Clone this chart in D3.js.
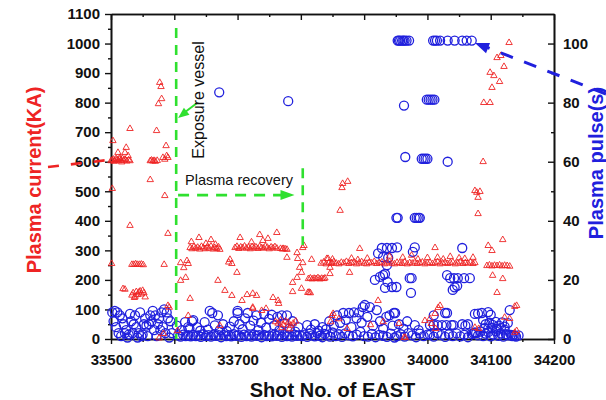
<!DOCTYPE html>
<html>
<head>
<meta charset="utf-8">
<script src="https://cdn.jsdelivr.net/npm/d3@7/dist/d3.min.js"></script>
<style>
  html, body { margin: 0; padding: 0; background: #fff; }
  svg { display: block; font-family: Arial, "Liberation Sans", sans-serif; }
  .axis path, .axis line { stroke: #111; }
  .axis text { font-size: 15px; font-weight: bold; fill: #111; }
</style>
</head>
<body>
<svg id="chart" width="606" height="400"></svg>
<script>
// Axis ticks
const shotTicks = [33500, 33600, 33700, 33800, 33900, 34000, 34100, 34200];
const shotMinor = [33550, 33650, 33750, 33850, 33950, 34050, 34150];
const currentTicks = [0, 100, 200, 300, 400, 500, 600, 700, 800, 900, 1000, 1100];
const currentMinor = [50, 150, 250, 350, 450, 550, 650, 750, 850, 950, 1050];
const pulseTicks = [0, 20, 40, 60, 80, 100];
const pulseMinor = [10, 30, 50, 70, 90];

// Plasma current per shot: [shot number, current in kA]
const currentPts = [
  [33503,673],[33530,714],[33511,633],[33522,633],[33524,650],[33514,616],[33527,622],
  [33500,605],[33502,608],[33504,610],[33506,606],[33508,612],[33510,609],[33512,605],[33514,611],
  [33516,607],[33518,613],[33520,606],[33522,610],[33525,604],[33528,608],[33530,605],[33505,603],[33517,601],
  [33502,511],
  [33562,605],[33564,607],[33566,604],[33568,606],[33570,603],[33573,606],
  [33582,616],[33588,622],[33590,616],[33585,610],[33587,656],[33572,707],[33575,798],[33580,815],
  [33577,870],[33579,856],[33562,541],[33585,487],
  [33530,386],[33590,359],[33501,257],[33533,254],[33536,254],[33539,256],[33542,254],[33545,254],
  [33548,255],[33551,253],[33584,254],
  [33519,172],[33522,170],[33533,150],[33535,158],[33538,146],[33540,162],[33542,152],[33544,160],
  [33546,164],[33548,154],[33550,166],[33552,158],[33554,144],[33537,142],
  [33590,115],[33592,109],[33583,20],[33576,5],[33605,30],
  [33610,260],[33615,243],[33620,267],[33622,257],[33610,200],[33618,210],[33625,139],[33622,81],
  [33625,311],[33628,307],[33631,314],[33634,309],[33637,312],[33640,306],[33643,315],[33646,310],
  [33649,307],[33652,313],[33655,309],[33658,316],[33661,306],[33664,311],[33667,308],[33670,313],[33672,305],
  [33627,331],[33639,345],[33658,338],[33650,325],[33665,322],
  [33688,271],[33691,257],[33686,262],[33699,227],[33680,166],[33669,200],[33707,132],[33724,109],
  [33691,149],[33715,152],[33738,98],[33756,142],[33764,132],
  [33696,311],[33699,315],[33702,308],[33705,313],[33708,310],[33711,316],[33714,309],[33717,312],
  [33720,307],[33723,314],[33726,310],[33729,313],[33732,308],[33735,315],[33738,311],[33741,309],
  [33744,316],[33747,312],[33750,307],[33753,313],[33756,310],[33759,314],[33762,309],[33768,308],
  [33771,306],[33775,307],[33778,305],
  [33704,345],[33735,355],[33748,342],[33762,362],[33740,335],[33722,330],[33772,308],[33778,278],
  [33724,156],[33730,149],[33765,122],[33724,105],[33745,105],
  [33672,47],[33760,60],[33764,55],[33768,66],[33772,50],[33776,62],[33780,58],[33784,48],[33788,55],
  [33792,62],[33770,40],[33782,36],
  [33794,294],[33803,311],[33805,318],[33795,274],[33803,260],[33817,271],[33798,244],[33801,227],
  [33794,210],[33787,193],[33801,173],[33787,162],[33811,159],[33813,160],[33815,158],
  [33812,206],[33815,208],[33818,205],[33821,207],[33824,206],[33827,209],[33830,205],[33833,207],
  [33836,206],[33838,208],
  [33846,244],[33846,223],[33849,260],[33843,274],
  [33866,528],[33874,535],[33865,514],[33862,437],
  [33851,88],[33860,70],[33922,132],[33849,81],[33873,37],[33847,60],
  [33832,258],[33836,262],[33840,256],[33844,260],[33848,257],[33852,263],[33856,258],[33860,256],
  [33864,261],[33868,259],[33872,264],[33876,257],[33880,260],[33884,262],[33888,256],[33892,259],
  [33896,263],[33900,258],[33904,256],[33908,261],[33912,259],[33916,264],[33920,257],[33924,260],
  [33928,262],[33932,256],[33936,259],[33940,263],[33944,258],[33948,256],[33952,261],[33956,259],
  [33960,257],[33964,262],[33968,256],[33972,260],[33976,258],[33980,263],[33984,257],[33988,260],
  [33992,262],[33996,256],[34000,259],[34004,261],[34008,257],[34012,260],[34016,263],[34020,256],
  [34024,259],[34028,261],[34032,257],[34036,260],[34040,262],[34044,256],[34048,259],[34052,263],
  [34056,257],[34060,260],[34064,258],[34068,262],[34072,257],[34075,260],
  [33850,272],[33880,275],[33890,270],[33905,275],[33940,282],[33961,278],[33975,285],[33985,272],
  [34012,311],[34016,278],[34036,281],[34059,274],[34072,278],[34025,272],[34050,276],[34000,277],
  [33877,227],[33893,308],[33841,274],
  [34094,250],[34098,252],[34102,249],[34106,251],[34110,250],[34114,252],[34118,249],[34122,251],
  [34126,250],[34130,248],
  [34096,318],[34102,301],[34119,338],[34103,217],[34119,206],[34110,159],[34141,115],[34122,75],
  [34141,30],[34138,24],
  [34129,1005],[34110,954],[34116,961],[34121,924],[34099,904],[34105,893],[34114,873],[34102,853],
  [34089,802],[34099,802],
  [34075,504],[34078,498],[34083,501],[34080,481],[34080,426],[34088,602],
  [34020,115],[34012,88],[33996,64],[34006,54],[33955,54],[33965,7],[34075,41],[33930,60],[33910,50],
  [34013,37],[34004,71],[34017,108],[34081,37],[34130,71],[34138,112],[33963,7]
];

// Plasma pulse length per shot: [shot number, pulse in s]
const pulsePts = [
  [33953,101],[33955,101],[33957,101],[33960,101],[33962,101],[33964,101],[33967,101],[33971,101],
  [34009,101],[34012,101],[34015,101],[34020,101],[34032,101],[34043,101],[34055,101],[34062,101],[34070,101],
  [33999,81],[34002,81],[34005,81],[34008,81],[34011,81],[33963,79],[33671,83.5],[33780,80.5],
  [33965,61.6],[33991,61],[33994,61],[33997,61],[34000,61],[34032,60],
  [33951,41],[33953,41],[33980,41],[33983,41],[33986,41],[33988,41],
  [33980,31],[33977,29.5],[34055,30.8],[33952,31],[33922,29],[33928,30.8],[33936,30.8],[33944,30.8],
  [33930,27.7],[33938,27.5],[33936,25],
  [33972,20.6],[33975,20.6],[34031,21.6],[34036,20.6],[34042,20.6],[34048,20.6],[34058,20.6],[34067,20.6],
  [34047,18],[34040,16.6],[34043,17.5],[33974,15.6],[33951,17.6],[33917,20],[33925,21],[33930,21.6],
  [33933,22],[33937,19.3],[33944,17.6],[33933,17.3],[33947,8.8],
  [33502,9],[33506,9.5],[33510,9],[33514,8],[33518,7],[33504,6],[33508,4],[33512,2],[33516,1],[33520,5],
  [33524,3],[33528,1.5],[33532,6],[33536,5],[33540,4],[33544,2],[33548,1],[33552,5],[33556,4.5],[33560,5],
  [33564,6],[33568,3],[33572,1],[33576,7],[33580,9],[33584,10],[33588,9],[33590,7],[33594,6],[33596,2],
  [33530,8.5],[33538,8],[33546,9],[33554,7],[33562,8],[33566,9.5],[33570,8],[33574,5],[33578,3],[33582,4],
  [33586,2],[33592,0.5],[33526,0.5],[33522,2],[33534,2],[33542,0.5],[33550,1.5],[33558,1],
  [33606,1.2],[33610,0.8],[33614,1.5],[33618,1],[33622,1.3],[33626,0.9],[33630,1.4],[33634,1],[33638,1.2],
  [33642,0.7],[33646,1.6],[33650,1],[33654,1.3],[33658,0.8],[33662,1.5],[33666,1.1],[33670,1.3],[33674,0.6],
  [33678,1.4],[33682,1],[33686,1.2],[33690,0.9],[33694,1.6],[33698,1.1],[33702,1.3],[33706,0.7],[33710,1.5],
  [33714,1],[33718,1.2],[33722,0.8],[33726,1.5],[33730,1.1],[33734,1.3],[33738,0.6],[33742,1.4],[33746,1],
  [33750,1.2],[33754,0.9],[33758,1.5],[33762,1.1],[33766,1.3],[33770,0.7],[33774,1.6],[33778,1],[33782,1.2],
  [33786,0.8],[33790,1.5],[33794,1.1],[33798,1.3],
  [33604,4.5],[33612,3],[33617,5.7],[33624,3.5],[33630,6.4],[33636,4],[33641,2.8],[33648,5.7],[33653,3.2],
  [33660,8.8],[33664,4.6],[33669,8],[33672,3],[33677,5],[33683,2.7],[33688,4.2],[33694,6],[33700,8.8],
  [33703,5],[33708,3.3],[33712,7],[33716,8.8],[33720,4.5],[33725,6.2],[33730,8],[33733,3],[33737,5.5],
  [33742,8.5],[33745,3.8],[33750,6.8],[33754,8.2],[33758,4.6],[33763,7.5],[33766,2.9],[33770,8],[33774,5.2],
  [33778,8],[33782,3.5],[33787,6],[33791,2.5],[33796,4],[33622,4],[33628,6],[33656,9.5],[33700,9.5],
  [33802,1],[33806,1.5],[33810,0.7],[33814,1.8],[33818,1.2],[33822,0.9],[33826,2],[33830,1.1],[33834,0.6],
  [33838,1.7],[33842,1.3],[33846,0.8],[33850,2.2],[33855,1],[33860,1.6],[33865,0.7],[33870,1.9],[33876,1.2],
  [33882,0.9],[33888,1.5],[33894,2.4],[33900,1],[33906,0.8],[33912,1.7],[33918,0.6],[33924,1.4],[33930,1.1],
  [33936,0.7],[33942,1.8],[33948,0.5],
  [33810,4.7],[33816,3.2],[33822,5],[33828,2.8],[33834,4],[33840,3.3],[33845,6],[33852,4.5],[33857,8],
  [33862,5.5],[33867,8.8],[33871,6.5],[33876,8.8],[33880,4],[33884,9],[33888,7],[33892,9],[33896,5.5],
  [33898,10.8],[33901,11.5],[33905,7.5],[33909,10.8],[33914,4.5],[33920,9.8],[33925,6],[33930,3.5],
  [33935,7.5],[33940,8],[33945,4.5],[33949,8.8],
  [33952,1],[33958,1.6],[33964,0.8],[33970,2],[33976,1.2],[33982,0.6],[33988,1.8],[33994,1],[34000,1.5],
  [34004,1.4],[34010,0.8],[34016,2],[34022,1.3],[34028,0.7],[34034,1.6],[34040,1],[34046,1.9],[34052,0.9],
  [34058,1.4],[34064,0.6],[34070,1.7],[34073,2],[34075,2.2],[34077,2],[34080,1.2],[34084,2.5],[34088,1],
  [34092,1.8],[34096,2.3],[34100,0.9],[34104,1.5],[34108,2.6],[34112,1.1],[34116,1.9],[34120,0.8],
  [34124,1.6],[34128,1.2],[34132,1.4],[34134,1],[34136,1.3],[34138,1.1],[34140,0.8],[34144,1.2],
  [33955,5],[33962,3.5],[33968,6],[33980,4.7],[33986,3],[34004,4.7],[34010,4.7],[34016,4.7],[34023,4.7],
  [34030,4.7],[34038,4.7],[34055,5],[34060,4.5],[34064,5],[34088,6.4],[34092,5],[34098,5.5],[34103,4.8],
  [34108,5.8],[34113,4.5],[34118,5.6],[34122,4.2],[34127,5.4],[34090,3.7],[34096,3.5],[34102,3.8],
  [34110,3.4],[34116,3.7],[34122,3.2],
  [34028,8.8],[34031,8.8],[34041,4.7],[34075,8.5],[34080,8.6],[34086,8.8],[34096,9.1],[34130,9.8],
  [34010,8],[34100,8.2]
];

const svg = d3.select("#chart");
const plotLeft = 111, plotRight = 554, plotTop = 14, plotBottom = 339;

const x = d3.scaleLinear().domain([33500, 34200]).range([plotLeft, plotRight]);
const yL = d3.scaleLinear().domain([0, 1100]).range([plotBottom, plotTop]);
const yR = d3.scaleLinear().domain([0, 110]).range([plotBottom, plotTop]);

const RED = "#ee2424", BLUE = "#2020dd", GREEN = "#2fe02f";

// ---- axes ----
function styleAxis(g) {
  g.select(".domain").attr("stroke-width", 1.6);
  g.selectAll(".tick line").attr("stroke-width", 1.4);
}
// bottom
svg.append("g").attr("class", "axis").attr("transform", `translate(0,${plotBottom})`)
  .call(d3.axisBottom(x).tickValues(shotMinor).tickSize(3).tickSizeOuter(0).tickFormat(""))
  .call(styleAxis);
svg.append("g").attr("class", "axis").attr("transform", `translate(0,${plotBottom})`)
  .call(d3.axisBottom(x).tickValues(shotTicks).tickSize(5).tickPadding(10).tickSizeOuter(0).tickFormat(d3.format("d")))
  .call(styleAxis);
// top (ticks point into the plot)
svg.append("g").attr("class", "axis").attr("transform", `translate(0,${plotTop})`)
  .call(d3.axisTop(x).tickValues(shotMinor).tickSize(-3).tickSizeOuter(0).tickFormat(""))
  .call(styleAxis);
svg.append("g").attr("class", "axis").attr("transform", `translate(0,${plotTop})`)
  .call(d3.axisTop(x).tickValues(shotTicks).tickSize(-6).tickSizeOuter(0).tickFormat(""))
  .call(styleAxis);
// left
svg.append("g").attr("class", "axis").attr("transform", `translate(${plotLeft},0)`)
  .call(d3.axisLeft(yL).tickValues(currentMinor).tickSize(3).tickSizeOuter(0).tickFormat(""))
  .call(styleAxis);
svg.append("g").attr("class", "axis").attr("transform", `translate(${plotLeft},0)`)
  .call(d3.axisLeft(yL).tickValues(currentTicks).tickSize(6).tickPadding(5).tickSizeOuter(0).tickFormat(d3.format("d")))
  .call(styleAxis);
// right (ticks point into the plot)
svg.append("g").attr("class", "axis").attr("transform", `translate(${plotRight},0)`)
  .call(d3.axisRight(yR).tickValues(pulseMinor).tickSize(-3).tickSizeOuter(0).tickFormat(""))
  .call(styleAxis);
svg.append("g").attr("class", "axis").attr("transform", `translate(${plotRight},0)`)
  .call(d3.axisRight(yR).tickValues(pulseTicks).tickSize(-6).tickPadding(9).tickSizeOuter(0).tickFormat(d3.format("d")))
  .call(styleAxis);

// ---- data ----
svg.append("g").selectAll("circle").data(pulsePts).join("circle")
  .attr("cx", d => x(d[0])).attr("cy", d => yR(d[1])).attr("r", 4.5)
  .attr("fill", "none").attr("stroke", BLUE).attr("stroke-width", 1.3);

const tri = d3.symbol().type(d3.symbolTriangle).size(18);
svg.append("g").selectAll("path").data(currentPts).join("path")
  .attr("d", tri)
  .attr("transform", d => `translate(${x(d[0])},${yL(d[1]) + 0.6})`)
  .attr("fill", "none").attr("stroke", RED).attr("stroke-width", 0.9);

// ---- annotations ----
function arrowHead(g, tipX, tipY, fromX, fromY, len, half, color) {
  const dx = fromX - tipX, dy = fromY - tipY, L = Math.hypot(dx, dy);
  const ux = dx / L, uy = dy / L;
  const bx = tipX + ux * len, by = tipY + uy * len;
  g.append("path")
    .attr("d", `M${tipX},${tipY}L${bx - uy * half},${by + ux * half}L${bx + uy * half},${by - ux * half}Z`)
    .attr("fill", color);
}
const ann = svg.append("g");

// vertical marker at the vessel exposure
ann.append("line")
  .attr("x1", x(33603)).attr("x2", x(33603)).attr("y1", yL(1053)).attr("y2", plotBottom)
  .attr("stroke", GREEN).attr("stroke-width", 2.6).attr("stroke-dasharray", "10,7");
// recovery period
ann.append("line")
  .attr("x1", x(33606)).attr("x2", x(33786)).attr("y1", yL(487)).attr("y2", yL(487))
  .attr("stroke", GREEN).attr("stroke-width", 2.6).attr("stroke-dasharray", "11,8");
arrowHead(ann, x(33790), yL(487), x(33700), yL(487), 14, 5, GREEN);
ann.append("line")
  .attr("x1", x(33803)).attr("x2", x(33803)).attr("y1", yL(578)).attr("y2", yL(318))
  .attr("stroke", GREEN).attr("stroke-width", 2.6).attr("stroke-dasharray", "10,7");
// pointer to the exposure marker
ann.append("line")
  .attr("x1", x(33636)).attr("y1", yL(799)).attr("x2", x(33614)).attr("y2", yL(763))
  .attr("stroke", GREEN).attr("stroke-width", 2);
arrowHead(ann, x(33606), yL(748), x(33636), yL(799), 11, 4.5, GREEN);

ann.append("text")
  .attr("transform", `translate(204,100) rotate(-90)`)
  .attr("text-anchor", "middle").attr("font-size", 16).attr("fill", "#111")
  .text("Exposure vessel");
ann.append("text")
  .attr("x", 185).attr("y", 185)
  .attr("font-size", 14.5).attr("fill", "#111")
  .text("Plasma recovery");

// left title with pointer to the current axis
ann.append("line")
  .attr("x1", 48).attr("y1", 167).attr("x2", 108).attr("y2", 160)
  .attr("stroke", RED).attr("stroke-width", 2.6).attr("stroke-dasharray", "11,12");
svg.append("text")
  .attr("transform", "translate(41,180) rotate(-90)")
  .attr("text-anchor", "middle").attr("font-size", 20).attr("font-weight", "bold").attr("fill", RED)
  .text("Plasma current(KA)");

// right title with pointer to the pulse axis
ann.append("line")
  .attr("x1", 606).attr("y1", 94).attr("x2", 486).attr("y2", 47)
  .attr("stroke", BLUE).attr("stroke-width", 3).attr("stroke-dasharray", "13,12");
arrowHead(ann, 475, 43, 606, 94, 14, 5.5, BLUE);
svg.append("text")
  .attr("transform", "translate(603,163) rotate(-90)")
  .attr("text-anchor", "middle").attr("font-size", 20).attr("font-weight", "bold").attr("fill", BLUE)
  .text("Plasma pulse(s)");

// x title
svg.append("text")
  .attr("x", (plotLeft + plotRight) / 2).attr("y", 397)
  .attr("text-anchor", "middle").attr("font-size", 20).attr("font-weight", "bold").attr("fill", "#111")
  .text("Shot No. of EAST");
</script>
</body>
</html>
